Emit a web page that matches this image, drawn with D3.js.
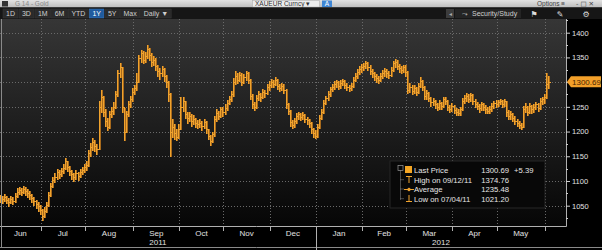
<!DOCTYPE html>
<html>
<head>
<meta charset="utf-8">
<script src="https://cdn.jsdelivr.net/npm/d3@7"></script>
<style>
  body { margin: 0; background: #000; overflow: hidden; }
  svg { display: block; font-family: "Liberation Sans", Arial, sans-serif; }
</style>
</head>
<body>
<div id="chart-area"></div>
<script>
const closes = [
  1066, 1064, 1068, 1062, 1058, 1064, 1060, 1070, 1078, 1082, 1078, 1084, 1080, 1076, 1072, 1066, 1060, 1054, 1050,
  1042, 1030, 1040, 1052, 1072, 1090, 1102, 1108, 1118, 1114, 1120, 1126, 1140, 1128, 1120, 1114, 1108, 1116, 1110, 1118, 1122,
  1128, 1132, 1156, 1168, 1178, 1170, 1165, 1250, 1270, 1240, 1222, 1210, 1236, 1242, 1250, 1275, 1318, 1330, 1250, 1200, 1235, 1255, 1265,
  1280, 1288, 1300, 1348, 1358, 1345, 1352, 1368, 1355, 1340, 1345, 1332, 1322, 1318, 1326, 1312, 1300, 1275, 1200, 1210, 1198, 1190,
  1205, 1250, 1262, 1235, 1228, 1232, 1222, 1226, 1218, 1215, 1218, 1212, 1220, 1205, 1192, 1180, 1195, 1225, 1238, 1232, 1245,
  1240, 1248, 1258, 1266, 1275, 1300, 1312, 1305, 1315, 1300, 1310, 1318, 1305, 1272, 1255, 1250, 1268, 1275, 1270, 1280, 1278, 1290,
  1295, 1300, 1296, 1305, 1292, 1288, 1293, 1285, 1255, 1242, 1220, 1214, 1222, 1232, 1235, 1230, 1234, 1226, 1224, 1218, 1205, 1198,
  1192, 1210, 1228, 1240, 1258, 1268, 1276, 1286, 1290, 1296, 1300, 1292, 1298, 1302, 1294, 1290, 1288, 1292, 1305, 1312, 1320, 1326,
  1330, 1333, 1338, 1330, 1322, 1318, 1312, 1308, 1305, 1312, 1318, 1322, 1318, 1315, 1325, 1338, 1340, 1332, 1328, 1325, 1330,
  1320, 1285, 1290, 1283, 1288, 1280, 1292, 1302, 1290, 1272, 1278, 1268, 1260, 1262, 1255, 1250, 1258, 1252, 1265, 1262, 1250, 1246,
  1252, 1244, 1240, 1238, 1245, 1262, 1268, 1272, 1266, 1274, 1262, 1256, 1252, 1248, 1255, 1250, 1246, 1242, 1245, 1252, 1258,
  1255, 1260, 1262, 1256, 1262, 1240, 1232, 1236, 1228, 1222, 1218, 1214, 1210, 1246, 1250, 1240, 1252, 1245, 1250, 1256, 1248, 1262, 1265,
  1270, 1295.30, 1300.69
];
const highs = [
  1072, 1070, 1074, 1070, 1066, 1070, 1068, 1076, 1086, 1088, 1086, 1090, 1088, 1084, 1080, 1074, 1068, 1062, 1058,
  1052, 1044, 1048, 1058, 1078, 1096, 1108, 1116, 1124, 1122, 1126, 1134, 1146, 1140, 1130, 1122, 1116, 1122, 1118, 1124, 1128,
  1134, 1140, 1162, 1176, 1186, 1182, 1175, 1262, 1284, 1272, 1245, 1228, 1242, 1250, 1260, 1282, 1325, 1338, 1330, 1248, 1242, 1262, 1272,
  1288, 1294, 1318, 1355, 1365, 1362, 1360, 1375, 1370, 1358, 1352, 1348, 1335, 1328, 1332, 1328, 1315, 1302, 1278, 1225, 1215, 1205,
  1215, 1270, 1270, 1262, 1240, 1240, 1235, 1234, 1228, 1224, 1226, 1222, 1226, 1222, 1206, 1194, 1200, 1232, 1245, 1242, 1250,
  1250, 1255, 1264, 1272, 1282, 1308, 1323, 1318, 1320, 1318, 1316, 1323, 1320, 1306, 1275, 1260, 1274, 1282, 1278, 1286, 1285, 1296,
  1302, 1306, 1304, 1310, 1306, 1296, 1298, 1296, 1286, 1258, 1244, 1224, 1228, 1238, 1240, 1238, 1240, 1236, 1230, 1226, 1220, 1208,
  1204, 1216, 1234, 1246, 1264, 1272, 1282, 1290, 1296, 1302, 1305, 1302, 1304, 1306, 1304, 1298, 1295, 1298, 1310, 1318, 1326, 1332,
  1336, 1338, 1342, 1340, 1334, 1326, 1320, 1316, 1312, 1318, 1324, 1328, 1326, 1322, 1330, 1342, 1346, 1344, 1336, 1332, 1335,
  1334, 1322, 1298, 1294, 1295, 1290, 1298, 1310, 1304, 1292, 1284, 1280, 1270, 1268, 1264, 1258, 1263, 1260, 1270, 1270, 1264, 1254,
  1258, 1254, 1248, 1246, 1250, 1268, 1274, 1277, 1275, 1278, 1276, 1265, 1260, 1256, 1260, 1258, 1253, 1250, 1251, 1258, 1262,
  1263, 1264, 1266, 1264, 1266, 1262, 1244, 1242, 1238, 1232, 1226, 1222, 1218, 1252, 1257, 1252, 1258, 1254, 1256, 1260, 1258, 1268, 1270,
  1276, 1318, 1312
];
const lows = [
  1058, 1056, 1060, 1055, 1050, 1056, 1054, 1058, 1068, 1074, 1072, 1076, 1072, 1068, 1064, 1058, 1052, 1046, 1040,
  1034, 1021, 1028, 1038, 1050, 1070, 1088, 1098, 1104, 1106, 1110, 1116, 1124, 1120, 1112, 1104, 1100, 1104, 1102, 1108, 1114,
  1118, 1122, 1130, 1150, 1162, 1160, 1155, 1165, 1240, 1232, 1212, 1203, 1208, 1230, 1236, 1248, 1272, 1310, 1240, 1183, 1200, 1232, 1250,
  1262, 1276, 1285, 1300, 1340, 1338, 1340, 1348, 1345, 1332, 1335, 1325, 1312, 1306, 1312, 1302, 1290, 1262, 1150, 1190, 1185, 1183,
  1186, 1205, 1242, 1228, 1218, 1222, 1212, 1215, 1210, 1208, 1210, 1204, 1208, 1198, 1184, 1173, 1178, 1192, 1222, 1226, 1230,
  1232, 1236, 1244, 1255, 1262, 1272, 1296, 1298, 1302, 1295, 1298, 1305, 1298, 1265, 1248, 1243, 1248, 1264, 1262, 1268, 1270, 1276,
  1284, 1290, 1290, 1294, 1286, 1282, 1284, 1278, 1248, 1235, 1212, 1208, 1210, 1218, 1226, 1224, 1226, 1220, 1216, 1210, 1198, 1190,
  1187, 1190, 1208, 1226, 1238, 1255, 1264, 1272, 1282, 1286, 1290, 1286, 1288, 1294, 1288, 1284, 1282, 1284, 1290, 1302, 1308, 1316,
  1320, 1324, 1328, 1324, 1316, 1310, 1304, 1300, 1298, 1302, 1308, 1312, 1310, 1308, 1312, 1322, 1330, 1326, 1320, 1318, 1320,
  1312, 1278, 1280, 1276, 1278, 1274, 1278, 1290, 1284, 1266, 1266, 1262, 1252, 1254, 1248, 1243, 1246, 1245, 1250, 1256, 1244, 1240,
  1242, 1238, 1234, 1233, 1234, 1244, 1258, 1262, 1260, 1262, 1256, 1250, 1246, 1240, 1244, 1244, 1238, 1237, 1238, 1242, 1248,
  1250, 1252, 1255, 1250, 1252, 1232, 1225, 1226, 1222, 1215, 1212, 1208, 1205, 1210, 1240, 1234, 1238, 1238, 1240, 1246, 1242, 1246, 1256,
  1258, 1268, 1288
];

const monthLabels = ['Jun', 'Jul', 'Aug', 'Sep', 'Oct', 'Nov', 'Dec', 'Jan', 'Feb', 'Mar', 'Apr', 'May'];
const yearLabels = ['2011', '2012'];
const yTicks = [1050, 1100, 1150, 1200, 1250, 1300, 1350, 1400];
const yMinorTicks = [1025, 1075, 1125, 1175, 1225, 1275, 1325, 1375, 1425];
const rangeButtons = ['1D', '3D', '1M', '6M', 'YTD', '1Y', '5Y', 'Max', 'Daily \u25BC'];
const legendLabels = ['Last Price', 'High on 09/12/11', 'Average', 'Low on 07/04/11'];
const legendValues = ['1300.69', '1374.76', '1235.48', '1021.20'];
const lastChange = '+5.39';

const W = 602, H = 250;
const plot = {left: 0, top: 19, right: 566, bottom: 226};
const orange = '#f0a32e';
const orangeDark = '#a86a1c';

const svg = d3.select('#chart-area')
    .append('svg')
    .attr('width', W)
    .attr('height', H);

svg.append('rect').attr('width', W).attr('height', H).attr('fill', '#000');

const defs = svg.append('defs');
const bg = defs.append('linearGradient').attr('id', 'plotBg')
    .attr('x1', 0).attr('y1', 0).attr('x2', 0).attr('y2', 1);
bg.append('stop').attr('offset', '0%').attr('stop-color', '#363636');
bg.append('stop').attr('offset', '55%').attr('stop-color', '#1c1c1c');
bg.append('stop').attr('offset', '100%').attr('stop-color', '#060606');
const titleBg = defs.append('linearGradient').attr('id', 'titleBg')
    .attr('x1', 0).attr('y1', 0).attr('x2', 0).attr('y2', 1);
titleBg.append('stop').attr('offset', '0%').attr('stop-color', '#e2e2e2');
titleBg.append('stop').attr('offset', '100%').attr('stop-color', '#bdbdbd');

// Weekdays of the 1Y window, one bar each
const days = d3.timeDay.range(new Date(2011, 5, 6), new Date(2012, 5, 6))
    .filter(d => d.getDay() !== 0 && d.getDay() !== 6);

const x = d3.scaleLinear().domain([0, days.length - 1]).range([0.8, 549.1]);
const y = d3.scaleLinear().domain([1050, 1400]).range([205.7, 32.7]);
const px = v => Math.round(v) + 0.5;

// Plot background
svg.append('rect')
    .attr('x', plot.left).attr('y', plot.top)
    .attr('width', plot.right - plot.left).attr('height', plot.bottom - plot.top)
    .attr('fill', 'url(#plotBg)');

// Month boundaries (first trading day of each month)
const monthStarts = [];
days.forEach((d, i) => {
    if (i > 0 && d.getMonth() !== days[i - 1].getMonth()) monthStarts.push(i);
});
const yearStart = days.findIndex(d => d.getFullYear() === 2012);

const grid = svg.append('g').attr('stroke', '#6a6a6a').attr('stroke-dasharray', '1,2');
grid.selectAll('.vgrid').data(monthStarts).enter().append('line')
    .attr('x1', d => px(x(d))).attr('x2', d => px(x(d)))
    .attr('y1', plot.top).attr('y2', plot.bottom);
grid.selectAll('.hgrid').data(yTicks).enter().append('line')
    .attr('x1', plot.left).attr('x2', plot.right)
    .attr('y1', d => px(y(d))).attr('y2', d => px(y(d)));

// OHLC-style bars: bright stem with a darker shade, close tick on the right
const bars = svg.append('g').attr('shape-rendering', 'crispEdges');
closes.forEach((c, i) => {
    const x0 = Math.round(x(i)) - 1;
    const top = Math.round(y(highs[i]));
    const h = Math.max(1, Math.round(y(lows[i])) + 1 - top);
    bars.append('rect')
        .attr('x', x0 + 1).attr('y', top)
        .attr('width', 1).attr('height', h)
        .attr('fill', orangeDark);
    bars.append('rect')
        .attr('x', x0).attr('y', top)
        .attr('width', 1).attr('height', h)
        .attr('fill', orange);
    bars.append('rect')
        .attr('x', x0 + 1).attr('y', Math.round(y(c)))
        .attr('width', 2).attr('height', 1)
        .attr('fill', orange);
});

// Frame: bottom axis line and right axis line
svg.append('line').attr('x1', plot.left).attr('x2', plot.right + 0.5)
    .attr('y1', plot.bottom + 0.5).attr('y2', plot.bottom + 0.5).attr('stroke', '#b0b0b0');
svg.append('line').attr('x1', plot.right + 0.5).attr('x2', plot.right + 0.5)
    .attr('y1', plot.top).attr('y2', plot.bottom + 0.5).attr('stroke', '#b0b0b0');
svg.append('line').attr('x1', 1.5).attr('x2', 1.5)
    .attr('y1', plot.top).attr('y2', 248).attr('stroke', '#8a8a8a');
svg.append('line').attr('x1', 0).attr('x2', W)
    .attr('y1', 247.5).attr('y2', 247.5).attr('stroke', '#8a8a8a');

// Month ticks and labels
svg.selectAll('.mtick').data(monthStarts).enter().append('line')
    .attr('x1', d => px(x(d))).attr('x2', d => px(x(d)))
    .attr('y1', plot.bottom).attr('y2', d => d === yearStart ? H : plot.bottom + 5)
    .attr('stroke', '#b0b0b0');

const bounds = [0].concat(monthStarts.map(d => x(d)));
svg.selectAll('.mlabel').data(monthLabels).enter().append('text')
    .attr('x', (d, i) => (bounds[i] + bounds[i + 1]) / 2)
    .attr('y', 236)
    .attr('text-anchor', 'middle')
    .attr('font-size', '8px')
    .attr('fill', '#e0e0e0')
    .text(d => d);

const yearX = [(0 + x(yearStart)) / 2, (x(yearStart) + plot.right) / 2];
svg.selectAll('.ylabel').data(yearLabels).enter().append('text')
    .attr('x', (d, i) => yearX[i])
    .attr('y', 245)
    .attr('text-anchor', 'middle')
    .attr('font-size', '8px')
    .attr('fill', '#e0e0e0')
    .text(d => d);

// Right price axis (the 1300 label sits under the last-price tag)
const lastPrice = closes[closes.length - 1];
const yAxisCall = d3.axisRight(y)
    .tickValues(yTicks)
    .tickSize(4)
    .tickPadding(2)
    .tickFormat(d => Math.abs(y(d) - y(lastPrice)) < 9 ? '' : d3.format('d')(d));
const yAxis = svg.append('g')
    .attr('transform', `translate(${plot.right}, 0)`)
    .call(yAxisCall);
yAxis.select('.domain').remove();
yAxis.selectAll('line').attr('stroke', '#d0d0d0');
yAxis.selectAll('text').attr('fill', '#e0e0e0').attr('font-size', '7.5px')
    .attr('font-family', '"Liberation Sans", Arial, sans-serif');
svg.selectAll('.minor').data(yMinorTicks).enter().append('line')
    .attr('x1', plot.right).attr('x2', plot.right + 2)
    .attr('y1', d => px(y(d))).attr('y2', d => px(y(d)))
    .attr('stroke', '#d0d0d0');

// Last price tag
const yl = y(lastPrice);
svg.append('path')
    .attr('d', `M${plot.right + 1},${yl} L${plot.right + 5},${yl - 5.5} L${W - 1},${yl - 5.5} L${W - 1},${yl + 5.5} L${plot.right + 5},${yl + 5.5} Z`)
    .attr('fill', '#f3a02a');
svg.append('text')
    .attr('x', plot.right + 6).attr('y', yl + 3)
    .attr('font-size', '8px').attr('fill', '#4a2600')
    .text(legendValues[0]);

// Legend box
const lg = svg.append('g').attr('transform', 'translate(390, 161)');
lg.append('rect').attr('width', 155).attr('height', 47)
    .attr('fill', '#080808').attr('stroke', '#262626');
lg.append('rect').attr('x', 8).attr('y', 4.5).attr('width', 5).attr('height', 5)
    .attr('fill', 'none').attr('stroke', '#999').attr('stroke-width', 0.7);
lg.append('line').attr('x1', 10.5).attr('x2', 10.5).attr('y1', 9.5).attr('y2', 39)
    .attr('stroke', '#888').attr('stroke-dasharray', '1,1');
[18.7, 28, 37.7].forEach(yy => {
    lg.append('line').attr('x1', 10.5).attr('x2', 14).attr('y1', yy).attr('y2', yy)
        .attr('stroke', '#888').attr('stroke-dasharray', '1,1');
});
lg.append('rect').attr('x', 15).attr('y', 5).attr('width', 7).attr('height', 7).attr('fill', '#f5a623');
const icons = lg.append('g').attr('stroke', orange).attr('stroke-width', 1);
icons.append('path').attr('d', 'M16,15.5 H22 M19,15.5 V22').attr('fill', 'none');
icons.append('path').attr('d', 'M14,28.5 H24').attr('fill', 'none');
icons.append('circle').attr('cx', 19).attr('cy', 28.5).attr('r', 1.3).attr('fill', orange);
icons.append('path').attr('d', 'M19,34 V40.5 M16,40.5 H22').attr('fill', 'none');

lg.selectAll('.lab').data(legendLabels).enter().append('text')
    .attr('x', 24).attr('y', (d, i) => 12 + i * 9.6)
    .attr('font-size', '7.7px').attr('fill', '#e6e6e6')
    .text(d => d);
lg.selectAll('.val').data(legendValues).enter().append('text')
    .attr('x', 119).attr('y', (d, i) => 12 + i * 9.6)
    .attr('text-anchor', 'end')
    .attr('font-size', '7.7px').attr('fill', '#e6e6e6')
    .text(d => d);
lg.append('text').attr('x', 124).attr('y', 12)
    .attr('font-size', '7.7px').attr('fill', '#e6e6e6')
    .text(lastChange);

// Title bar
svg.append('rect').attr('width', W).attr('height', 7.5).attr('fill', 'url(#titleBg)');
svg.append('rect').attr('x', 2).attr('y', 1).attr('width', 6).attr('height', 5.5).attr('fill', '#333');
svg.append('text').attr('x', 15).attr('y', 6.3).attr('font-size', '6.5px').attr('fill', '#8a8a8a')
    .text('G 14 - Gold');
svg.append('rect').attr('x', 252.5).attr('y', 0.5).attr('width', 67).attr('height', 6.5)
    .attr('fill', '#ececec').attr('stroke', '#aaa').attr('stroke-width', 0.5);
svg.append('text').attr('x', 255).attr('y', 6.2).attr('font-size', '6.5px').attr('fill', '#333')
    .text('XAUEUR Curncy \u25BE');
svg.append('rect').attr('x', 322).attr('y', 0.5).attr('width', 10).attr('height', 6.5).attr('fill', '#3f86d4');
svg.append('text').attr('x', 327).attr('y', 6.2).attr('text-anchor', 'middle')
    .attr('font-size', '6.5px').attr('fill', '#fff').text('A');
svg.append('text').attr('x', 537).attr('y', 6.2).attr('font-size', '6.5px').attr('fill', '#444')
    .text('Options \u2261');
svg.append('text').attr('x', 576).attr('y', 6.2).attr('font-size', '6.5px').attr('fill', '#444')
    .attr('font-family', '"DejaVu Sans", sans-serif')
    .text('- \u25A1 \u2715');

// Toolbar
svg.append('rect').attr('y', 7.5).attr('width', W).attr('height', 11.5).attr('fill', '#161616');
let bx = 3;
rangeButtons.forEach(label => {
    const t = svg.append('text').attr('y', 16).attr('font-size', '7px').text(label);
    const w = t.node().getComputedTextLength() + 6;
    svg.insert('rect', () => t.node())
        .attr('x', bx).attr('y', 9).attr('width', w).attr('height', 9)
        .attr('fill', label === '1Y' ? '#1f5b9e' : '#2a2a2a')
        .attr('stroke', label === '1Y' ? '#3d7cc4' : '#3a3a3a').attr('stroke-width', 0.5);
    t.attr('x', bx + 3).attr('fill', label === '1Y' ? '#fff' : '#cfcfcf');
    bx += w + 1;
});

svg.append('rect').attr('x', 446).attr('y', 9).attr('width', 8).attr('height', 9).attr('fill', '#3c3c3c');
svg.append('text').attr('x', 450).attr('y', 16).attr('text-anchor', 'middle').attr('font-size', '6px')
    .attr('fill', '#aaa').text('\u25C2');
svg.append('rect').attr('x', 455).attr('y', 9).attr('width', 66).attr('height', 9).attr('fill', '#242424');
svg.append('text').attr('x', 462).attr('y', 16).attr('font-size', '7px').attr('fill', '#cfcfcf')
    .attr('font-family', '"DejaVu Sans", sans-serif').text('\u2933');
svg.append('text').attr('x', 472).attr('y', 16).attr('font-size', '7px').attr('fill', '#cfcfcf')
    .text('Security/Study');
[['\u2691', 534], ['\u270E', 560], ['\u2699', 586]].forEach(([g, gx]) => {
    svg.append('text').attr('x', gx).attr('y', 16.5).attr('text-anchor', 'middle')
        .attr('font-size', '8px').attr('fill', '#dcdcdc')
        .attr('font-family', '"DejaVu Sans", sans-serif').text(g);
});
</script>
</body>
</html>
